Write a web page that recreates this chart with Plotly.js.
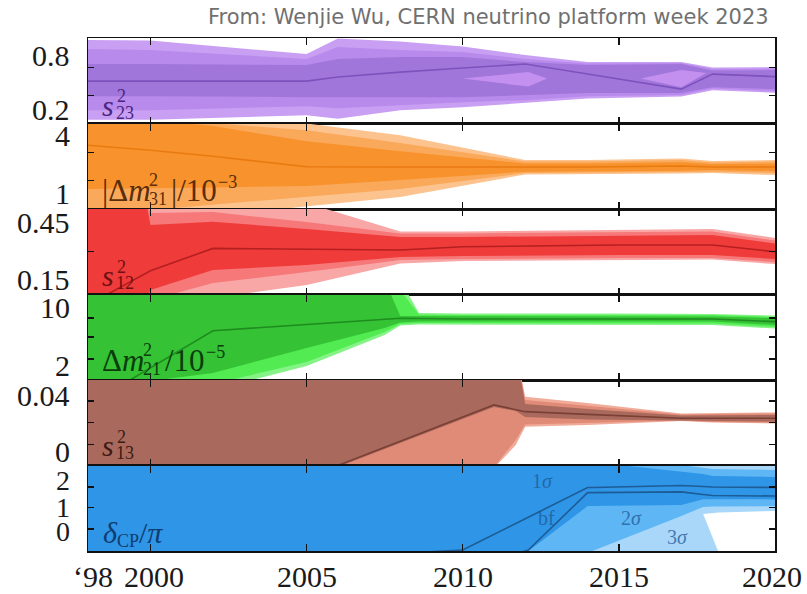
<!DOCTYPE html>
<html><head><meta charset="utf-8">
<script src="https://cdn.plot.ly/plotly-3.0.1.min.js"></script>
<style>html,body{margin:0;padding:0;background:#fff}#chart{width:807px;height:594px}</style>
</head><body><div id="chart"></div>
<script>
// ================= DATA =================
const xTickVals = [1998, 2000, 2005, 2010, 2015, 2020];
const xTickText = ['\u201898', '2000', '2005', '2010', '2015', '2020'];

// --- s23^2 ---
const s23Years = [1998, 2000, 2005, 2006, 2008, 2010, 2012, 2014, 2017, 2018, 2020];
const s23Up3 = [0.967, 0.961, 0.811, 0.983, 0.950, 0.894, 0.800, 0.722, 0.722, 0.661, 0.667];
const s23Up2 = [0.867, 0.856, 0.756, 0.889, 0.856, 0.833, 0.756, 0.706, 0.711, 0.644, 0.650];
const s23Up1 = [0.700, 0.700, 0.689, 0.756, 0.778, 0.778, 0.722, 0.689, 0.700, 0.628, 0.633];
const s23Bf  = [0.511, 0.511, 0.511, 0.556, 0.611, 0.656, 0.700, 0.589, 0.422, 0.589, 0.561];
const s23Lo1 = [0.344, 0.344, 0.333, 0.333, 0.333, 0.333, 0.356, 0.378, 0.378, 0.444, 0.422];
const s23Lo2 = [0.189, 0.189, 0.233, 0.211, 0.244, 0.278, 0.300, 0.344, 0.356, 0.428, 0.400];
const s23Lo3 = [0.083, 0.083, 0.133, 0.094, 0.189, 0.222, 0.267, 0.317, 0.339, 0.411, 0.383];
const s23HoleAYears = [2010, 2012.1, 2012.7];
const s23HoleAUp = [0.539, 0.611, 0.539];
const s23HoleALo = [0.539, 0.450, 0.539];
const s23HoleBYears = [2015.7, 2017, 2017.8];
const s23HoleBUp = [0.539, 0.633, 0.600];
const s23HoleBLo = [0.539, 0.444, 0.600];
const s23Labels = [0.8, 0.2];
const s23Ticks = [0.663, 0.348];

// --- |dm31^2| / 1e-3 ---
const m31Years = [1998, 2000, 2002, 2005, 2008, 2012, 2014, 2017, 2018, 2020];
const m31Up3 = [5.29, 5.19, 4.88, 4.60, 4.00, 2.71, 2.71, 2.79, 2.66, 2.71];
const m31Up2 = [5.19, 4.98, 4.62, 4.26, 3.59, 2.63, 2.63, 2.71, 2.58, 2.63];
const m31Up1 = [5.04, 4.78, 4.47, 3.69, 3.17, 2.53, 2.53, 2.60, 2.50, 2.53];
const m31Bf  = [3.48, 3.22, 2.91, 2.36, 2.35, 2.35, 2.35, 2.40, 2.35, 2.35];
const m31Lo1 = [1.21, 1.26, 1.29, 1.36, 1.67, 2.11, 2.14, 2.16, 2.19, 2.14];
const m31Lo2 = [0.02, 0.12, 0.38, 0.79, 1.21, 2.04, 2.04, 2.09, 2.11, 2.04];
const m31Lo3 = [-0.66, -0.50, -0.19, 0.28, 0.79, 1.96, 1.96, 2.01, 2.04, 1.93];
const m31Labels = [4, 1];
const m31Ticks = [3.105, 1.636];

// --- s12^2 ---
const s12Years = [1998, 1999.85, 2000, 2002, 2005, 2008, 2010, 2015, 2018, 2020];
const s12Up3 = [0.573, 0.573, 0.573, 0.573, 0.557, 0.404, 0.404, 0.412, 0.418, 0.370];
const s12Up2 = [0.573, 0.573, 0.503, 0.509, 0.455, 0.394, 0.394, 0.399, 0.404, 0.356];
const s12Up1 = [0.573, 0.573, 0.439, 0.457, 0.418, 0.375, 0.375, 0.380, 0.386, 0.340];
const s12Bf  = [0.011, 0.181, 0.194, 0.314, 0.311, 0.305, 0.323, 0.332, 0.332, 0.296];
const s12Lo1 = [0.037, 0.037, 0.091, 0.198, 0.225, 0.268, 0.273, 0.279, 0.279, 0.257];
const s12Lo2 = [-0.016, -0.016, 0.037, 0.129, 0.187, 0.252, 0.257, 0.262, 0.262, 0.241];
const s12Lo3 = [-0.070, -0.070, -0.016, 0.048, 0.118, 0.233, 0.246, 0.252, 0.254, 0.230];
const s12Labels = [0.45, 0.15];
const s12Ticks = [0.296];

// --- dm21^2 / 1e-5 ---
const m21Years = [1998, 2000, 2002, 2005, 2007.5, 2008, 2008.6, 2010, 2015, 2018, 2020];
const m21Up3 = [13.9, 13.9, 13.9, 13.9, 13.9, 13.9, 9.30, 9.23, 9.23, 9.16, 8.95];
const m21Up2 = [13.9, 13.9, 13.9, 13.9, 13.9, 12.5, 9.09, 9.02, 9.02, 9.02, 8.74];
const m21Up1 = [13.9, 13.9, 13.9, 13.9, 13.9, 8.88, 8.88, 8.81, 8.81, 8.81, 8.60];
const m21Bf  = [-3.61, 1.58, 6.81, 7.68, 8.39, 8.55, 8.53, 8.46, 8.46, 8.46, 8.08];
const m21Lo1 = [-2.91, -0.25, 0.88, 4.39, 7.19, 7.96, 8.11, 8.11, 8.11, 8.11, 7.61];
const m21Lo2 = [-5.02, -2.35, -0.67, 2.42, 6.63, 7.75, 7.89, 7.89, 7.82, 7.82, 7.33];
const m21Lo3 = [-5.72, -3.19, -1.51, 1.86, 6.21, 7.54, 7.68, 7.68, 7.61, 7.61, 7.12];
const m21Labels = [10, 2];
const m21Ticks = [8.60, 5.93, 2.84];

// --- s13^2 ---
const s13Years = [1998, 2006, 2011, 2011.7, 2012, 2014, 2017, 2018, 2020];
const s13Up3 = [0.0735, 0.0735, 0.0735, 0.0735, 0.0395, 0.0349, 0.0273, 0.0276, 0.0280];
const s13Up2 = [0.0735, 0.0735, 0.0735, 0.0735, 0.0371, 0.0327, 0.0265, 0.0269, 0.0273];
const s13Up1 = [0.0735, 0.0735, 0.0735, 0.0735, 0.0342, 0.0305, 0.0258, 0.0258, 0.0262];
const s13Bf  = [-0.0284, -0.0105, 0.0335, 0.0300, 0.0286, 0.0266, 0.0238, 0.0238, 0.0238];
const s13Lo1 = [-0.0284, -0.0116, 0.0320, 0.0291, 0.0247, 0.0229, 0.0225, 0.0218, 0.0213];
const s13Lo2 = [-0.0429, -0.0429, -0.0116, 0.0080, 0.0193, 0.0204, 0.0222, 0.0211, 0.0207];
const s13Lo3 = [-0.0502, -0.0502, -0.0124, 0.0044, 0.0177, 0.0189, 0.0218, 0.0207, 0.0200];
const s13Labels = [0.04, 0];
const s13Ticks = [0.0364, 0.0207, 0.0047];

// --- delta_CP / pi ---
const dcpYears = [1998, 2010, 2012.1, 2014, 2014.2, 2015, 2017, 2017.7, 2018, 2020];
const dcpUp3 = [2.96, 2.96, 2.96, 2.96, 2.96, 2.96, 2.96, 2.96, 2.96, 2.96];
const dcpUp2 = [2.77, 2.77, 2.77, 2.77, 2.77, 2.77, 2.58, 2.46, 2.43, 2.39];
const dcpUp1 = [2.77, 2.77, 2.77, 2.77, 2.77, 2.58, 2.31, 2.23, 2.15, 2.12];
const dcpBfA = [-1.48, -0.71, 0.56, 1.71, 1.71, 1.73, 1.79, 1.75, 1.73, 1.71];
const dcpBfB = [-1.86, -1.48, -0.71, 1.51, 1.51, 1.52, 1.54, 1.44, 1.40, 1.38];
const dcpLo1 = [-1.48, -1.10, -0.75, 0.99, 0.99, 1.01, 1.03, 1.26, 1.26, 1.25];
const dcpLo2 = [-1.48, -1.48, -1.48, -0.82, -0.75, -0.36, 0.61, 0.96, 0.97, 0.99];
const dcpLo3 = [-1.67, -1.67, -1.67, -1.67, -1.67, -1.67, -1.67, -1.67, -1.67, -1.67];
const dcpHoleYears = [2017.7, 2018.2, 2020];
const dcpHoleUp = [0.685, 0.743, 0.801];
const dcpHoleLo = [0.685, -0.82, -0.82];
const dcpLabels = [2, 0.92, 0];
const dcpLabelText = ['2', '1', '0'];
const dcpTicks = [1.729, 0.936, 0.104];
const dcpNotes = ['1<i>\u03c3</i>', 'bf', '2<i>\u03c3</i>', '3<i>\u03c3</i>'];
const dcpNoteX = [2012.57, 2012.67, 2015.42, 2016.89];
const dcpNoteY = [1.96, 0.53, 0.53, -0.20];

// ================= BUILD =================
const SERIF = 'Liberation Serif, Times New Roman, serif';
const W = 807, H = 594, L = 88, R = 32, T = 38, B = 43;
const PW = W - L - R, PH = H - T - B;
const px = x => (x - L) / PW;
const py = y => (H - B - y) / PH;

const panels = [
  {years: s23Years, up3: s23Up3, up2: s23Up2, up1: s23Up1, bf: [s23Bf], lo1: s23Lo1, lo2: s23Lo2, lo3: s23Lo3,
   range: [0.041, 0.989], labels: s23Labels, ticks: s23Ticks, lsize: 30,
   col: ['#c99ff3', '#b88aec', '#a176da', '#7e52bd'], txt: '#4a2580'},
  {years: m31Years, up3: m31Up3, up2: m31Up2, up1: m31Up1, bf: [m31Bf], lo1: m31Lo1, lo2: m31Lo2, lo3: m31Lo3,
   range: [0.172, 4.606], labels: m31Labels, ticks: m31Ticks, lsize: 30,
   col: ['#fcc38e', '#faa95b', '#f7922c', '#e97a10'], txt: '#5a2e08'},
  {years: s12Years, up3: s12Up3, up2: s12Up2, up1: s12Up1, bf: [s12Bf], lo1: s12Lo1, lo2: s12Lo2, lo3: s12Lo3,
   range: [0.067, 0.525], labels: s12Labels, ticks: s12Ticks, lsize: 30,
   col: ['#f9a6a6', '#f67878', '#f03b3b', '#b51f1f'], txt: '#6e1010'},
  {years: m21Years, up3: m21Up3, up2: m21Up2, up1: m21Up1, bf: [m21Bf], lo1: m21Lo1, lo2: m21Lo2, lo3: m21Lo3,
   range: [-0.105, 11.89], labels: m21Labels, ticks: m21Ticks, lsize: 30,
   col: ['#86f386', '#52ec52', '#35c235', '#1e8c1e'], txt: '#0b3d0b'},
  {years: s13Years, up3: s13Up3, up2: s13Up2, up1: s13Up1, bf: [s13Bf], lo1: s13Lo1, lo2: s13Lo2, lo3: s13Lo3,
   range: [-0.0105, 0.0516], labels: s13Labels, ticks: s13Ticks, lsize: 30,
   col: ['#f1ab99', '#e08b77', '#a96a5d', '#7a4035'], txt: '#3d1a12'},
  {years: dcpYears, up3: dcpUp3, up2: dcpUp2, up1: dcpUp1, bf: [dcpBfA, dcpBfB], lo1: dcpLo1, lo2: dcpLo2, lo3: dcpLo3,
   range: [-0.747, 2.561], labels: dcpLabels, labelText: dcpLabelText, ticks: dcpTicks, lsize: 28,
   col: ['#a9d7f9', '#5fb6f4', '#2e95e7', '#1d5c96'], txt: '#0f3d70'}
];

const traces = [];
const layout = {
  width: W, height: H, margin: {l: L, r: R, t: T, b: B},
  paper_bgcolor: '#fff', plot_bgcolor: 'rgba(0,0,0,0)', showlegend: false,
  annotations: []
};

function band(xs, up, lo, color, xa, ya) {
  return {x: xs.concat(xs.slice().reverse()), y: up.concat(lo.slice().reverse()),
    type: 'scatter', mode: 'lines', fill: 'toself', fillcolor: color,
    line: {width: 0, color: 'rgba(0,0,0,0)'}, xaxis: xa, yaxis: ya, hoverinfo: 'skip', showlegend: false};
}
function line(xs, ys, color, xa, ya) {
  return {x: xs, y: ys, type: 'scatter', mode: 'lines', line: {color: color, width: 1.6},
    xaxis: xa, yaxis: ya, hoverinfo: 'skip', showlegend: false};
}

panels.forEach((p, i) => {
  const k = i + 1;
  const xa = 'x' + (k === 1 ? '' : k), ya = 'y' + (k === 1 ? '' : k);
  traces.push(band(p.years, p.up3, p.lo3, p.col[0], xa, ya));
  traces.push(band(p.years, p.up2, p.lo2, p.col[1], xa, ya));
  traces.push(band(p.years, p.up1, p.lo1, p.col[2], xa, ya));
  if (i === 0) {
    traces.push(band(s23HoleAYears, s23HoleAUp, s23HoleALo, '#c490f0', xa, ya));
    traces.push(band(s23HoleBYears, s23HoleBUp, s23HoleBLo, '#c490f0', xa, ya));
  }
  if (i === 5) {
    traces.push(band(dcpHoleYears, dcpHoleUp, dcpHoleLo, '#ffffff', xa, ya));
  }
  p.bf.forEach(b => traces.push(line(p.years, b, p.col[3], xa, ya)));

  const dom = [1 - (i + 1) / 6, 1 - i / 6];
  layout['xaxis' + (k === 1 ? '' : k)] = {
    domain: [0, 1], anchor: ya, range: [1998, 2020], tickmode: 'array',
    tickvals: xTickVals, ticks: 'inside', ticklen: 7, tickwidth: 1.3, tickcolor: '#111',
    showline: true, linecolor: '#111', linewidth: 1.5, mirror: 'ticks',
    showgrid: false, zeroline: false, showticklabels: false
  };
  layout['yaxis' + (k === 1 ? '' : k)] = {
    domain: dom, anchor: xa, range: p.range, tickmode: 'array', tickvals: p.ticks,
    ticks: 'inside', ticklen: 6, tickwidth: 1.3, tickcolor: '#111',
    showline: true, linecolor: '#111', linewidth: 1.5, mirror: 'ticks',
    showgrid: false, zeroline: false, showticklabels: false
  };
  p.labels.forEach((v, j) => {
    layout.annotations.push({xref: 'paper', yref: ya, x: px(72), y: v, xanchor: 'right', yanchor: 'middle',
      text: p.labelText ? p.labelText[j] : String(v), showarrow: false,
      font: {family: SERIF, size: p.lsize, color: '#1a1a1a'}});
  });
});

// x tick labels (bottom)
const xLabelShift = [5, 4, 0, 0, 0, -3];
xTickVals.forEach((v, j) => {
  layout.annotations.push({xref: 'x6', yref: 'paper', x: v, y: py(576), xshift: xLabelShift[j],
    xanchor: 'center', yanchor: 'middle', text: xTickText[j], showarrow: false,
    font: {family: SERIF, size: 30, color: '#1a1a1a'}});
});

function note(text, x, y, size, color, xanchor) {
  layout.annotations.push({xref: 'paper', yref: 'paper', x: px(x), y: py(y), xanchor: xanchor || 'center',
    yanchor: 'middle', text: text, showarrow: false, font: {family: SERIF, size: size, color: color}});
}
// stacked-script math labels
function sLabel(sub, yMain, color) {
  note('<i>s</i>', 108, yMain - 3, 30, color);
  note('2', 121.5, yMain - 12, 18, color);
  note(sub, 125, yMain + 4.5, 18, color);
}
sLabel('23', 108, panels[0].txt);
sLabel('12', 278.5, panels[2].txt);
sLabel('13', 448.5, panels[4].txt);
// |dm31^2|/10^-3
note('|\u0394<i>m</i>', 100, 190, 31, panels[1].txt, 'left');
note('2', 153, 180, 18, panels[1].txt);
note('31', 158, 199, 18, panels[1].txt);
note('|/10', 169, 190, 31, panels[1].txt, 'left');
note('\u22123', 216, 182, 18, panels[1].txt, 'left');
// dm21^2/10^-5
note('\u0394<i>m</i>', 100, 360, 31, panels[3].txt, 'left');
note('2', 147, 350, 18, panels[3].txt);
note('21', 152, 369, 18, panels[3].txt);
note('/10', 163, 360, 31, panels[3].txt, 'left');
note('\u22125', 204, 352, 18, panels[3].txt, 'left');
// delta_CP / pi
note('<i>\u03b4</i>', 101, 532, 30, panels[5].txt, 'left');
note('CP', 115, 541, 18, panels[5].txt, 'left');
note('/<i>\u03c0</i>', 137, 532, 30, panels[5].txt, 'left');
// sigma notes in delta_CP panel
dcpNotes.forEach((t, j) => {
  layout.annotations.push({xref: 'x6', yref: 'y6', x: dcpNoteX[j], y: dcpNoteY[j], text: t, showarrow: false,
    xanchor: 'center', yanchor: 'middle', font: {family: SERIF, size: 20, color: 'rgba(30,90,150,0.75)'}});
});
// source line
layout.annotations.push({xref: 'paper', yref: 'paper', x: px(771), y: py(17), xanchor: 'right', yanchor: 'middle',
  text: 'From: Wenjie Wu, CERN neutrino platform week 2023', showarrow: false,
  font: {family: 'DejaVu Sans, sans-serif', size: 21, color: '#707070'}});

Plotly.newPlot('chart', traces, layout, {staticPlot: true, displayModeBar: false});
</script>
</body></html>
